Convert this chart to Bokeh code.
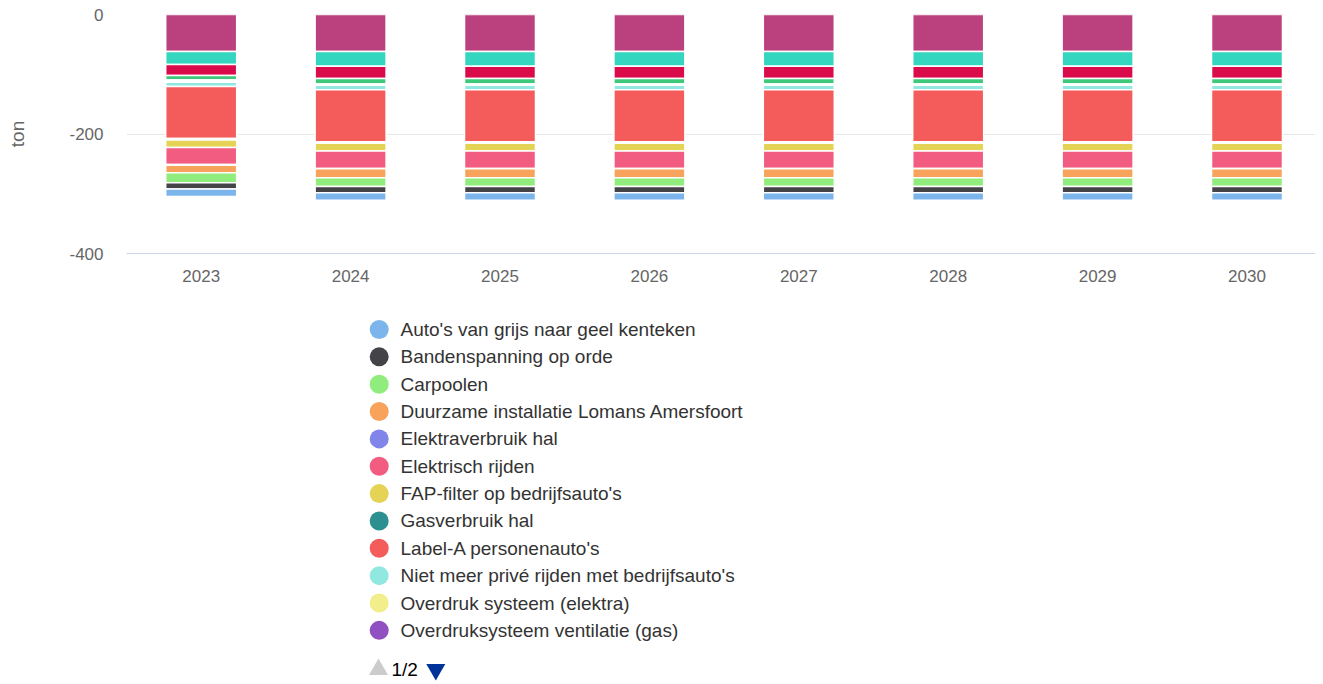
import numpy as np
from bokeh.plotting import figure
from bokeh.models import ColumnDataSource, Range1d, FixedTicker
from bokeh.layouts import column
from bokeh.embed import file_html
from bokeh.resources import INLINE
from bokeh.core.properties import value

# ---------------- data ----------------
years = [2023, 2024, 2025, 2026, 2027, 2028, 2029, 2030]
year_labels = ["2023", "2024", "2025", "2026", "2027", "2028", "2029", "2030"]
y_ticks = [0, -200, -400]
y_tick_labels = ["0", "-200", "-400"]
y_title = "ton"

series_names = [
    "Auto's van grijs naar geel kenteken",
    "Bandenspanning op orde",
    "Carpoolen",
    "Duurzame installatie Lomans Amersfoort",
    "Elektraverbruik hal",
    "Elektrisch rijden",
    "FAP-filter op bedrijfsauto's",
    "Gasverbruik hal",
    "Label-A personenauto's",
    "Niet meer privé rijden met bedrijfsauto's",
    "Overdruk systeem (elektra)",
    "Overdruksysteem ventilatie (gas)",
    "Serie 13",
    "Serie 14",
    "Serie 15",
    "Serie 16",
]
series_colors = [
    "#7cb5ec", "#434348", "#90ed7d", "#f7a35c", "#8085e9", "#f15c80",
    "#e4d354", "#2b908f", "#f45b5b", "#91e8e1", "#f2ee8c", "#9150c2",
    "#3ec87a", "#da0b4a", "#35d6c0", "#bb417e",
]

auto_grijs_geel = [-12.8, -12.6, -12.6, -12.6, -12.6, -12.6, -12.6, -12.6]
bandenspanning = [-10.3, -10.3, -10.3, -10.3, -10.3, -10.3, -10.3, -10.3]
carpoolen = [-16.7, -14.6, -14.6, -14.6, -14.6, -14.6, -14.6, -14.6]
duurzame_installatie = [-12.6, -15.0, -15.0, -15.0, -15.0, -15.0, -15.0, -15.0]
elektraverbruik_hal = [-1.2, -0.5, -0.5, -0.5, -0.5, -0.5, -0.5, -0.5]
elektrisch_rijden = [-28.6, -29.3, -29.3, -29.3, -29.3, -29.3, -29.3, -29.3]
fap_filter = [-12.5, -13.1, -13.1, -13.1, -13.1, -13.1, -13.1, -13.1]
gasverbruik_hal = [-2.5, -2.5, -2.5, -2.5, -2.5, -2.5, -2.5, -2.5]
label_a = [-86.9, -86.9, -86.9, -86.9, -86.9, -86.9, -86.9, -86.9]
niet_prive = [-7.2, -7.7, -7.7, -7.7, -7.7, -7.7, -7.7, -7.7]
overdruk_elektra = [-1.8, -1.0, -1.0, -1.0, -1.0, -1.0, -1.0, -1.0]
overdruk_gas = [-1.8, -1.0, -1.0, -1.0, -1.0, -1.0, -1.0, -1.0]
serie_13 = [-7.9, -9.2, -9.2, -9.2, -9.2, -9.2, -9.2, -9.2]
serie_14 = [-18.4, -20.6, -20.6, -20.6, -20.6, -20.6, -20.6, -20.6]
serie_15 = [-21.5, -24.6, -24.6, -24.6, -24.6, -24.6, -24.6, -24.6]
serie_16 = [-62.0, -61.9, -61.9, -61.9, -61.9, -61.9, -61.9, -61.9]

series_values = [
    auto_grijs_geel, bandenspanning, carpoolen, duurzame_installatie,
    elektraverbruik_hal, elektrisch_rijden, fap_filter, gasverbruik_hal,
    label_a, niet_prive, overdruk_elektra, overdruk_gas,
    serie_13, serie_14, serie_15, serie_16,
]
legend_page_items = 12
legend_pages = 2

FONT = "Liberation Sans"
PAGE_W = 1315
FRAME_LEFT = 126

# ---------------- main chart ----------------
keys = [f"s{i}" for i in range(len(series_names))]
data = {"year": years}
for k, v in zip(keys, series_values):
    data[k] = v
source = ColumnDataSource(data)

frame_w = PAGE_W - FRAME_LEFT
cat_px = 149.4
p = figure(
    width=PAGE_W, height=308,
    x_range=Range1d(years[0] - 0.5, years[0] - 0.5 + frame_w / cat_px),
    y_range=Range1d(-400, 0),
    output_backend="svg", toolbar_location=None,
    min_border_left=FRAME_LEFT, min_border_right=0, min_border_top=14, min_border_bottom=55,
)
p.outline_line_color = None

# Highcharts stacks the first series furthest from zero -> stack in reverse order
p.vbar_stack(
    keys[::-1], x="year", width=0.475, source=source,
    color=series_colors[::-1], line_color="white", line_width=1.5,
)

p.xgrid.grid_line_color = None
p.ygrid.ticker = FixedTicker(ticks=y_ticks)
p.ygrid.grid_line_color = "#e6e6e6"
p.ygrid.grid_line_width = 1
p.ygrid.level = "underlay"

p.yaxis.ticker = FixedTicker(ticks=y_ticks)
p.yaxis.major_label_overrides = dict(zip(y_ticks, y_tick_labels))
p.yaxis.axis_line_color = None
p.yaxis.major_tick_line_color = None
p.yaxis.minor_tick_line_color = None
p.yaxis.major_tick_out = 0
p.yaxis.major_label_standoff = 23
p.yaxis.major_label_text_font = FONT
p.yaxis.major_label_text_font_size = "17px"
p.yaxis.major_label_text_color = "#666666"
p.yaxis.axis_label = y_title
p.yaxis.axis_label_text_font = FONT
p.yaxis.axis_label_text_font_size = "19px"
p.yaxis.axis_label_text_font_style = "normal"
p.yaxis.axis_label_text_color = "#666666"
p.yaxis.axis_label_standoff = 38

p.xaxis.ticker = FixedTicker(ticks=years)
p.xaxis.major_label_overrides = dict(zip(years, year_labels))
p.xaxis.axis_line_color = "#ccd6eb"
p.xaxis.axis_line_width = 1
p.xaxis.major_tick_line_color = None
p.xaxis.minor_tick_line_color = None
p.xaxis.major_tick_out = 0
p.xaxis.major_label_standoff = 16
p.xaxis.major_label_text_font = FONT
p.xaxis.major_label_text_font_size = "17px"
p.xaxis.major_label_text_color = "#666666"

# ---------------- legend (page 1 of 2) ----------------
lg_h = 374
lg = figure(
    width=PAGE_W, height=lg_h,
    x_range=Range1d(FRAME_LEFT, PAGE_W), y_range=Range1d(lg_h, 0),
    output_backend="svg", toolbar_location=None,
    x_axis_type=None, y_axis_type=None,
    min_border_left=FRAME_LEFT, min_border_right=0, min_border_top=0, min_border_bottom=0,
)
lg.outline_line_color = None
lg.grid.visible = False

row0, row_step = 21.0, 27.35
leg_y = row0 + np.arange(legend_page_items) * row_step
leg_src = ColumnDataSource(dict(
    y=leg_y,
    name=series_names[:legend_page_items],
    color=series_colors[:legend_page_items],
))
lg.scatter(x=378.7, y="y", size=19, marker="circle", fill_color="color",
           line_color=None, source=leg_src)
lg.text(x=400, y="y", text="name", source=leg_src,
        text_font=value(FONT), text_font_size="19px", text_color="#333333",
        text_baseline="middle", text_align="left")

nav_y = 361
lg.scatter(x=[378], y=[nav_y], marker="triangle", size=19,
           fill_color="#cccccc", line_color=None)
lg.text(x=[391], y=[nav_y], text=[f"1/{legend_pages}"],
        text_font=value(FONT), text_font_size="19px", text_color="#000000",
        text_baseline="middle", text_align="left")
lg.scatter(x=[435.3], y=[nav_y], marker="inverted_triangle", size=19,
           fill_color="#003399", line_color=None)

layout = column(p, lg, spacing=0)
open("out.html", "w").write(file_html(layout, INLINE))
